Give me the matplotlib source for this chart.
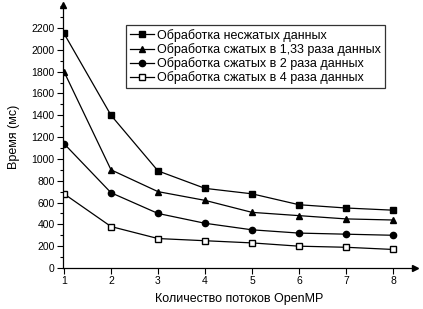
import matplotlib
matplotlib.use("Agg")
import matplotlib.pyplot as plt
from matplotlib.ticker import MultipleLocator

plt.rcParams['font.family'] = ['Liberation Sans', 'DejaVu Sans']

threads = [1, 2, 3, 4, 5, 6, 7, 8]
uncompressed = [2150, 1400, 890, 730, 680, 580, 550, 530]
compressed_133 = [1800, 900, 700, 620, 510, 480, 450, 440]
compressed_2 = [1140, 690, 500, 410, 350, 320, 310, 300]
compressed_4 = [680, 380, 270, 250, 230, 200, 190, 170]
labels = ["Обработка несжатых данных",
          "Обработка сжатых в 1,33 раза данных",
          "Обработка сжатых в 2 раза данных",
          "Обработка сжатых в 4 раза данных"]
y_ticks = list(range(0, 2201, 200))

fig = plt.figure(figsize=(4.23, 3.09), dpi=100)
ax = fig.add_axes([63/423, 1 - 268/309, (415-63)/423, (268-5)/309])

ax.plot(threads, uncompressed, '-s', color='black', lw=0.9, ms=4.5, mfc='black', label=labels[0])
ax.plot(threads, compressed_133, '-^', color='black', lw=0.9, ms=5, mfc='black', label=labels[1])
ax.plot(threads, compressed_2, '-o', color='black', lw=0.9, ms=4.5, mfc='black', label=labels[2])
ax.plot(threads, compressed_4, '-s', color='black', lw=0.9, ms=4.5, mfc='white', label=labels[3])

ax.set_xlim(1 - 1/47, 1 + (415-64)/47)
ax.set_ylim(0, 2200 * 263 / 240)
ax.set_xticks(threads)
ax.set_yticks(y_ticks)
ax.yaxis.set_minor_locator(MultipleLocator(100))
ax.tick_params(axis='both', labelsize=7.5, direction='out', length=4, width=0.8, pad=2)
ax.tick_params(axis='y', which='minor', length=2.5, width=0.8)
for s in ['top', 'right']:
    ax.spines[s].set_visible(False)
for s in ['left', 'bottom']:
    ax.spines[s].set_linewidth(0.9)

ax.plot(1, 0, '>k', ms=5, transform=ax.transAxes, clip_on=False)
ax.plot(0, 1, '^k', ms=5, transform=ax.transAxes, clip_on=False)

ax.set_ylabel("Время (мс)", fontsize=9, labelpad=8)
ax.set_xlabel("Количество потоков OpenMP", fontsize=9, labelpad=5)

leg = ax.legend(loc='upper left', bbox_to_anchor=(126/423, 1 - 25/309),
                bbox_transform=fig.transFigure, fontsize=9, frameon=True,
                fancybox=False, edgecolor='black', handlelength=1.9,
                handletextpad=0.3, borderpad=0.3, labelspacing=0.1,
                borderaxespad=0)
leg.get_frame().set_linewidth(0.9)

fig.savefig("out.png", dpi=100)
